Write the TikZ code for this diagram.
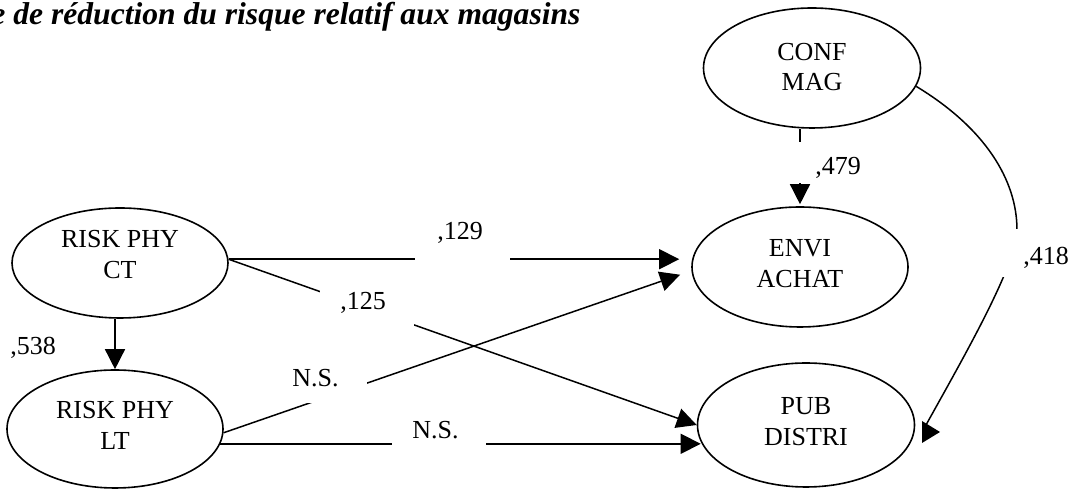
\documentclass[tikz,border=0pt]{standalone}
\usepackage{fontspec}
\setmainfont{Liberation Serif}
\usetikzlibrary{arrows.meta,shapes.geometric,fit}
\begin{document}
\begin{tikzpicture}[x=0.5pt,y=-0.5pt,
  latent/.style={draw,ellipse,line width=0.8pt,inner sep=0pt},
  caption/.style={inner sep=0pt,align=center,font=\fontsize{13}{15.4}\selectfont},
  path/.style={line width=0.75pt},
  arr/.style={line width=0.75pt,-{Triangle[length=10pt,width=10pt]}},
  cutout/.style={fill=white,inner sep=0pt,draw=none},
  lbl/.style={inner sep=0pt,font=\fontsize{13}{15.4}\selectfont},
  heading/.style={inner sep=0pt,font=\fontsize{15.8}{18}\selectfont\bfseries\itshape}]
\useasboundingbox (0,0) rectangle (1077,490);

% title
\node[heading,anchor=base west] (title) at (-9,25) {e de réduction du risque relatif aux magasins};

% latent variables (names set slightly above the centre)
\node[latent,minimum width=108.5pt,minimum height=60pt,
  label={[caption,yshift=0.5pt]center:CONF\\MAG}] (conf) at (812,68) {};
\node[latent,minimum width=108pt,minimum height=55pt,
  label={[caption,yshift=4.25pt]center:RISK PHY\\CT}] (ct) at (120,263) {};
\node[latent,minimum width=108pt,minimum height=59pt,
  label={[caption,yshift=2pt]center:RISK PHY\\LT}] (lt) at (115,429) {};
\node[latent,minimum width=108pt,minimum height=60pt,
  label={[caption,yshift=1.5pt]center:ENVI\\ACHAT}] (envi) at (800,267) {};
\node[latent,minimum width=108.5pt,minimum height=62pt,
  label={[caption,yshift=1.75pt]center:PUB\\DISTRI}] (pub) at (806,425) {};

% paths
\draw[arr,shorten >=1pt] (conf.south -| envi.north) -- (envi.north);
\draw[arr,shorten >=6pt] (ct.2.6) -- (ct.2.6 -| envi.west);
\draw[arr] (ct.2.6) -- (pub.west);
\draw[arr,shorten >=6pt] (lt.-2) -- (envi.182);
\draw[arr,shorten >=-2pt] (lt.-8) -- (lt.-8 -| pub.west);
\draw[arr] (ct.south -| lt.north) -- (lt.north);

% curved path from CONF MAG to PUB DISTRI
\coordinate (h418) at (926,425);
\draw[path] (conf.-10) .. controls (985,128) and (1017,180) .. (1017,230)
  .. controls (1017,265) and (962,360) .. (h418);
\fill (922,421) -- (940,432) -- (922,443) -- cycle;

% white label boxes over the paths
\node[cutout,fit={(796,142) (882,183)}] (b479) {};
\node[cutout,fit={(415,212) (510,264)}] (b129) {};
\node[cutout,fit={(320,284) (414,330)}] (b125) {};
\node[cutout,fit={(283,360) (367,403)}] (bns1) {};
\node[cutout,fit={(392,412) (486,452)}] (bns2) {};
\node[cutout,fit={(990,229) (1075,277)}] (b418) {};

% coefficients
\node[lbl,anchor=base west] (l479) at (815,175) {,479};
\node[lbl,anchor=base west] (l129) at (437,240) {,129};
\node[lbl,anchor=base west] (l125) at (340,310) {,125};
\node[lbl,anchor=base west] (lns1) at (292,387) {N.S.};
\node[lbl,anchor=base west] (lns2) at (412,439) {N.S.};
\node[lbl,anchor=base west] (l538) at (10,355) {,538};
\node[lbl,anchor=base west] (l418) at (1023,265) {,418};
\end{tikzpicture}
\end{document}
